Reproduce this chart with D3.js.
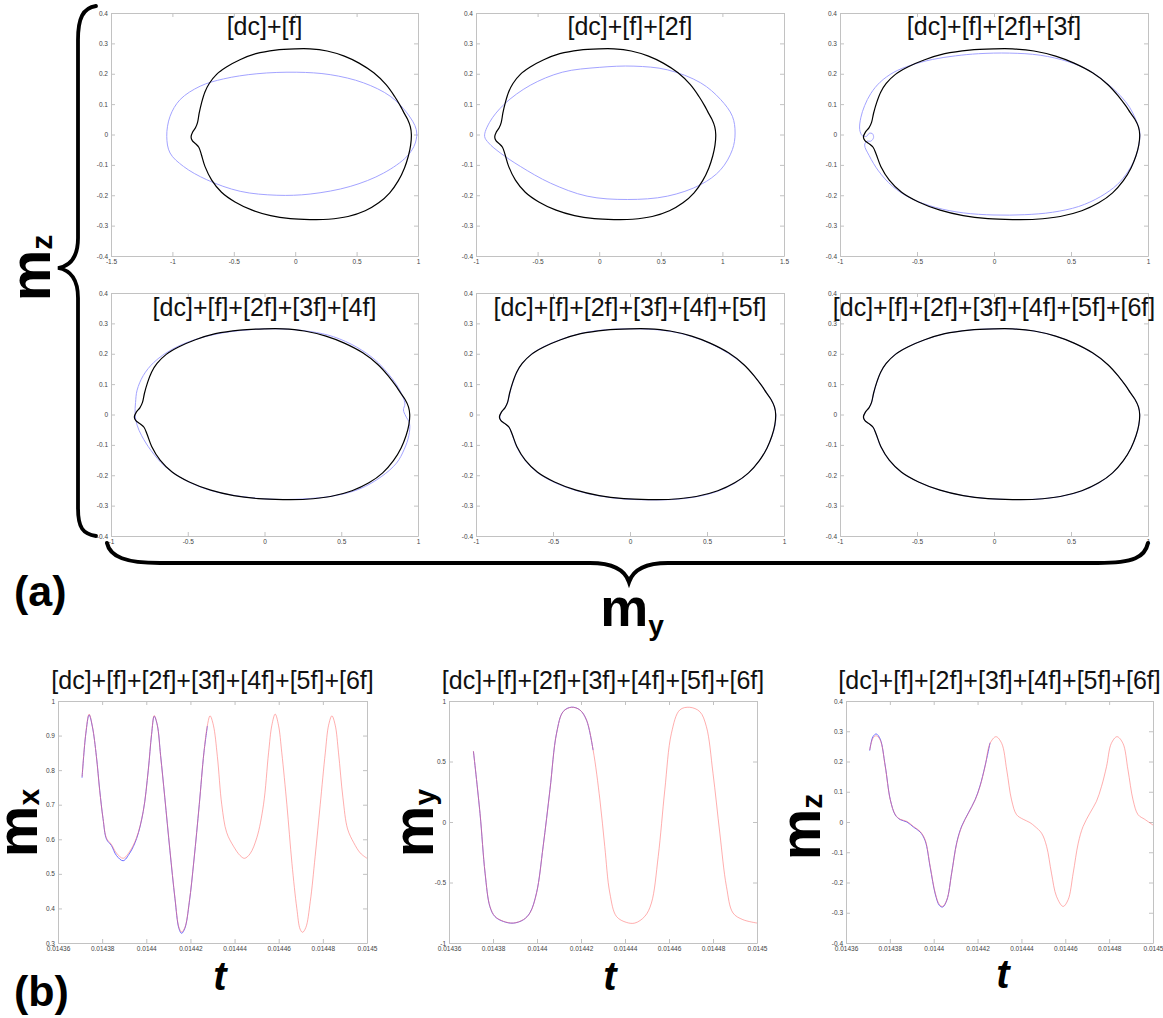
<!DOCTYPE html>
<html><head><meta charset="utf-8">
<script src="https://cdn.jsdelivr.net/npm/d3@7"></script>
<style>body{margin:0;background:#fff} svg{display:block}</style>
</head><body><svg id="c" width="1163" height="1018"></svg>
<script>
// ---------- DATA ----------
const topTitles = ["[dc]+[f]", "[dc]+[f]+[2f]", "[dc]+[f]+[2f]+[3f]",
  "[dc]+[f]+[2f]+[3f]+[4f]", "[dc]+[f]+[2f]+[3f]+[4f]+[5f]", "[dc]+[f]+[2f]+[3f]+[4f]+[5f]+[6f]"];
const bottomTitle = "[dc]+[f]+[2f]+[3f]+[4f]+[5f]+[6f]";
const topXDomains = [[-1.5, 1], [-1, 1.5], [-1, 1], [-1, 1], [-1, 1], [-1, 1]];
const topXTicks = [[-1.5, -1, -0.5, 0, 0.5, 1], [-1, -0.5, 0, 0.5, 1, 1.5], [-1, -0.5, 0, 0.5, 1],
  [-1, -0.5, 0, 0.5, 1], [-1, -0.5, 0, 0.5, 1], [-1, -0.5, 0, 0.5, 1]];
const topYTicks = [-0.4, -0.3, -0.2, -0.1, 0, 0.1, 0.2, 0.3, 0.4];

// simulated trajectory (my, mz) - black
const orbitSim = [[-0.848,-0.008],[-0.835,0.008],[-0.812,0.022],[-0.795,0.04],[-0.782,0.07],[-0.762,0.105],
  [-0.735,0.14],[-0.7,0.168],[-0.64,0.198],[-0.56,0.222],[-0.45,0.246],[-0.32,0.266],[-0.16,0.278],[0.0,0.282],
  [0.12,0.282],[0.26,0.275],[0.4,0.258],[0.52,0.235],[0.64,0.203],[0.74,0.164],[0.81,0.125],[0.855,0.095],
  [0.885,0.072],[0.915,0.05],[0.938,0.025],[0.946,0.0],[0.94,-0.035],[0.922,-0.07],[0.89,-0.11],[0.84,-0.152],
  [0.77,-0.192],[0.68,-0.225],[0.57,-0.251],[0.43,-0.27],[0.27,-0.279],[0.12,-0.28],[-0.04,-0.277],[-0.2,-0.267],
  [-0.35,-0.249],[-0.49,-0.222],[-0.6,-0.19],[-0.68,-0.15],[-0.735,-0.105],[-0.765,-0.065],[-0.785,-0.042],
  [-0.812,-0.03],[-0.838,-0.02]];

// Fourier reconstructions (blue), one per panel
const orbitF1 = [[-1.046,-0.006],[-1.019,0.06],[-0.937,0.115],[-0.774,0.159],[-0.584,0.183],[-0.312,0.2],
  [0.013,0.205],[0.285,0.197],[0.557,0.17],[0.774,0.126],[0.91,0.071],[0.986,0.016],[0.978,-0.028],[0.91,-0.072],
  [0.72,-0.127],[0.448,-0.171],[0.122,-0.196],[-0.149,-0.2],[-0.448,-0.187],[-0.72,-0.149],[-0.91,-0.105],[-1.019,-0.061]];
const orbitF2 = [[-0.93,-0.006],[-0.89,0.04],[-0.77,0.1],[-0.56,0.162],[-0.3,0.205],[0.0,0.221],
  [0.282,0.225],[0.553,0.213],[0.824,0.17],[0.986,0.115],[1.081,0.06],[1.103,0.005],[1.081,-0.05],[0.986,-0.116],
  [0.824,-0.165],[0.553,-0.203],[0.228,-0.214],[-0.098,-0.203],[-0.396,-0.16],[-0.64,-0.105],[-0.802,-0.061],[-0.897,-0.028]];
const orbitF3 = [[-0.872,0.016],[-0.865,0.055],[-0.84,0.095],[-0.8,0.135],[-0.74,0.172],[-0.65,0.205],[-0.54,0.228],
  [-0.4,0.247],[-0.25,0.259],[-0.1,0.266],[0.1,0.268],[0.3,0.261],[0.48,0.24],[0.62,0.21],[0.73,0.17],[0.82,0.128],
  [0.88,0.09],[0.92,0.05],[0.946,0.01],[0.942,-0.03],[0.915,-0.08],[0.87,-0.122],[0.8,-0.165],[0.69,-0.205],
  [0.55,-0.237],[0.38,-0.256],[0.2,-0.264],[0.0,-0.265],[-0.2,-0.258],[-0.38,-0.24],[-0.54,-0.21],[-0.66,-0.17],
  [-0.75,-0.12],[-0.81,-0.07],[-0.84,-0.035],[-0.825,-0.022],[-0.8,-0.022],[-0.782,-0.01],[-0.79,0.003],
  [-0.81,0.004],[-0.828,-0.006],[-0.855,-0.004]];
const orbitF4 = [[-0.843,0.0],[-0.84,0.04],[-0.83,0.08],[-0.79,0.128],[-0.72,0.172],[-0.6,0.215],[-0.45,0.247],
  [-0.28,0.268],[-0.1,0.279],[0.1,0.282],[0.3,0.273],[0.45,0.256],[0.6,0.222],[0.72,0.18],[0.8,0.138],[0.86,0.098],
  [0.9,0.06],[0.915,0.035],[0.905,0.015],[0.92,-0.005],[0.945,-0.03],[0.94,-0.07],[0.91,-0.115],[0.86,-0.16],
  [0.76,-0.205],[0.62,-0.245],[0.45,-0.268],[0.25,-0.278],[0.05,-0.279],[-0.15,-0.27],[-0.35,-0.25],[-0.52,-0.215],
  [-0.65,-0.17],[-0.74,-0.118],[-0.8,-0.07],[-0.83,-0.035]];
const orbitF5 = [[-0.845,-0.006],[-0.832,0.01],[-0.81,0.024],[-0.793,0.042],[-0.78,0.072],[-0.759,0.107],
  [-0.732,0.142],[-0.697,0.17],[-0.637,0.2],[-0.557,0.224],[-0.448,0.247],[-0.318,0.267],[-0.16,0.279],[0.0,0.282],
  [0.12,0.281],[0.26,0.274],[0.4,0.257],[0.52,0.234],[0.64,0.201],[0.742,0.162],[0.813,0.123],[0.858,0.093],
  [0.889,0.07],[0.918,0.048],[0.94,0.022],[0.947,-0.003],[0.941,-0.038],[0.921,-0.073],[0.888,-0.112],
  [0.837,-0.154],[0.767,-0.194],[0.677,-0.227],[0.567,-0.253],[0.428,-0.271],[0.27,-0.28],[0.12,-0.281],
  [-0.04,-0.278],[-0.2,-0.268],[-0.352,-0.25],[-0.493,-0.223],[-0.604,-0.19],[-0.684,-0.149],[-0.739,-0.103],
  [-0.768,-0.062],[-0.789,-0.04],[-0.816,-0.029],[-0.84,-0.018]];
const orbitF6 = [[-0.847,-0.007],[-0.834,0.009],[-0.811,0.023],[-0.794,0.041],[-0.781,0.071],[-0.761,0.106],
  [-0.734,0.141],[-0.699,0.169],[-0.639,0.199],[-0.559,0.223],[-0.449,0.246],[-0.319,0.266],[-0.16,0.278],[0.0,0.282],
  [0.12,0.282],[0.26,0.275],[0.4,0.258],[0.52,0.235],[0.64,0.202],[0.741,0.163],[0.811,0.124],[0.856,0.094],
  [0.887,0.071],[0.916,0.049],[0.939,0.024],[0.946,-0.001],[0.94,-0.036],[0.922,-0.071],[0.889,-0.111],
  [0.839,-0.153],[0.769,-0.193],[0.679,-0.226],[0.569,-0.252],[0.429,-0.27],[0.27,-0.279],[0.12,-0.28],
  [-0.04,-0.277],[-0.2,-0.267],[-0.351,-0.249],[-0.491,-0.222],[-0.602,-0.19],[-0.682,-0.15],[-0.737,-0.104],
  [-0.766,-0.064],[-0.787,-0.041],[-0.814,-0.03],[-0.839,-0.019]];
const orbitFourier = [orbitF1, orbitF2, orbitF3, orbitF4, orbitF5, orbitF6];

// time series (b)
const tTicks = [0.01436, 0.01438, 0.0144, 0.01442, 0.01444, 0.01446, 0.01448, 0.0145];
const tMx = [0.0143709,0.0143726,0.0143741,0.0143756,0.0143774,0.0143789,0.0143804,0.014382,0.0143842,0.0143865,
  0.0143895,0.0143925,0.0143956,0.0143986,0.0144009,0.0144024,0.0144036,0.014405,0.0144065,0.0144084,
  0.0144107,0.014413,0.0144148,0.014416,0.0144175,0.0144195,0.0144216,0.014424,0.0144261,0.0144277,
  0.0144289,0.0144304,0.0144322,0.0144342,0.0144364,0.0144395,0.0144425,0.0144445,0.014447,0.0144501,
  0.0144531,0.0144554,0.0144569,0.0144584,0.0144599,0.0144614,0.0144637,0.014466,0.0144682,0.0144697,
  0.0144708,0.0144723,0.0144743,0.0144765,0.0144788,0.0144811,0.0144826,0.0144841,0.0144856,0.0144871,
  0.0144891,0.0144912,0.014494,0.014497,0.0145];
const mxFourier = [0.781,0.907,0.962,0.926,0.839,0.74,0.66,0.603,0.585,0.56,
  0.545,0.565,0.605,0.68,0.8,0.905,0.958,0.93,0.84,0.72,
  0.57,0.43,0.345,0.332,0.345,0.42,0.54,0.7,0.85,0.93,
  0.957,0.93,0.84,0.7,0.62,0.58,0.553,0.545,0.558,0.605,
  0.7,0.85,0.93,0.962,0.93,0.85,0.7,0.53,0.4,0.34,
  0.331,0.345,0.42,0.55,0.7,0.85,0.93,0.957,0.93,0.85,
  0.72,0.63,0.59,0.56,0.545];
const mxSim = [0.778,0.905,0.96,0.925,0.84,0.742,0.66,0.6,0.582,0.553,0.538,0.56,0.602,0.68,0.8,0.903,0.956,0.93,
  0.842,0.72,0.568,0.428,0.342,0.328,0.343,0.418,0.54,0.7,0.85,0.928];

const tMy = [0.0143711,0.0143741,0.0143764,0.0143786,0.0143809,0.0143847,0.0143892,0.0143938,0.0143968,0.0143998,
  0.0144028,0.0144059,0.0144089,0.0144119,0.0144157,0.0144195,0.0144225,0.0144255,0.0144286,0.0144308,
  0.0144331,0.0144361,0.0144407,0.0144445,0.014449,0.014452,0.0144551,0.0144581,0.0144611,0.0144649,
  0.0144694,0.014474,0.014477,0.01448,0.0144831,0.0144861,0.0144891,0.0144936,0.0145];
const myFourier = [0.587,0.073,-0.42,-0.697,-0.78,-0.82,-0.835,-0.807,-0.752,-0.587,
  -0.202,0.266,0.733,0.912,0.948,0.926,0.843,0.596,0.183,-0.202,
  -0.587,-0.78,-0.83,-0.835,-0.78,-0.67,-0.285,0.266,0.733,0.926,
  0.948,0.912,0.788,0.403,-0.092,-0.532,-0.752,-0.807,-0.835];
const mySim = [0.585,0.07,-0.423,-0.7,-0.782,-0.822,-0.836,-0.808,-0.75,-0.585,-0.2,0.268,0.735,0.913,0.949,0.926,0.842,0.594];

const tMz = [0.0143708,0.0143723,0.0143738,0.0143756,0.0143779,0.0143802,0.0143825,0.0143847,0.0143878,0.0143908,
  0.0143938,0.0143961,0.0143984,0.0144007,0.0144026,0.0144041,0.014406,0.0144082,0.0144105,0.0144128,
  0.0144158,0.0144189,0.0144211,0.0144234,0.0144257,0.0144284,0.014431,0.0144333,0.0144355,0.0144378,
  0.0144408,0.0144439,0.0144462,0.0144492,0.0144515,0.0144537,0.014456,0.014459,0.0144613,0.0144636,
  0.0144659,0.0144681,0.0144712,0.0144742,0.0144765,0.0144788,0.014481,0.0144836,0.0144863,0.0144886,
  0.0144909,0.0144932,0.0144962,0.0145];
const mzFourier = [0.238,0.277,0.285,0.271,0.183,0.073,0.024,0.009,0.002,-0.015,
  -0.031,-0.059,-0.147,-0.235,-0.273,-0.279,-0.257,-0.169,-0.07,-0.015,
  0.029,0.073,0.117,0.183,0.26,0.282,0.26,0.172,0.073,0.024,
  0.009,-0.002,-0.015,-0.037,-0.081,-0.169,-0.246,-0.279,-0.257,-0.169,
  -0.07,-0.015,0.029,0.068,0.117,0.183,0.26,0.282,0.26,0.172,
  0.073,0.024,0.009,-0.01];
const mzSim = [0.236,0.282,0.291,0.274,0.185,0.074,0.023,0.008,0.0,-0.017,-0.033,-0.062,-0.15,-0.238,-0.276,-0.281,
  -0.258,-0.168,-0.068,-0.013,0.03,0.074,0.119,0.185,0.262];

const mxYTicks = [0.3,0.4,0.5,0.6,0.7,0.8,0.9,1];
const myYTicks = [-1,-0.5,0,0.5,1];
const mzYTicks = [-0.4,-0.3,-0.2,-0.1,0,0.1,0.2,0.3,0.4];

// ---------- DRAW ----------
const FONT = "'Liberation Sans', Arial, Helvetica, sans-serif";
const svg = d3.select("#c");
svg.append("rect").attr("width", 1163).attr("height", 1018).attr("fill", "#fff");

const fmt = v => String(+v.toFixed(5));
function styleAxis(sel) {
  sel.select("path.domain").attr("stroke", "#c2c2c2").attr("stroke-width", 1);
  sel.selectAll(".tick line").attr("stroke", "#c2c2c2");
  sel.selectAll(".tick text").attr("fill", "#444").attr("font-size", 6.5).attr("font-family", FONT);
}
function panel(c) {
  const g = svg.append("g");
  const x = d3.scaleLinear().domain(c.xd).range([c.l, c.r]);
  const y = d3.scaleLinear().domain(c.yd).range([c.b, c.t]);
  g.append("g").attr("transform", `translate(0,${c.b})`)
    .call(d3.axisBottom(x).tickValues(c.xt).tickFormat(fmt).tickSizeInner(-4).tickSizeOuter(0).tickPadding(3)).call(styleAxis);
  g.append("g").attr("transform", `translate(0,${c.t})`)
    .call(d3.axisTop(x).tickValues(c.xt).tickFormat("").tickSizeInner(-4).tickSizeOuter(0)).call(styleAxis);
  g.append("g").attr("transform", `translate(${c.l},0)`)
    .call(d3.axisLeft(y).tickValues(c.yt).tickFormat(fmt).tickSizeInner(-4).tickSizeOuter(0).tickPadding(3)).call(styleAxis);
  g.append("g").attr("transform", `translate(${c.r},0)`)
    .call(d3.axisRight(y).tickValues(c.yt).tickFormat("").tickSizeInner(-4).tickSizeOuter(0)).call(styleAxis);
  g.append("text").attr("x", (c.l + c.r) / 2).attr("y", c.ty).attr("text-anchor", "middle")
    .attr("font-family", FONT).attr("font-size", 25).attr("fill", "#111").text(c.title);
  return { g, x, y };
}

// top panels
const colL = [111, 476, 840], colR = [418, 784, 1148];
const rowT = [13, 293], rowB = [256, 536], rowTitleY = [35, 316];
for (let i = 0; i < 6; i++) {
  const col = i % 3, row = Math.floor(i / 3);
  const p = panel({ l: colL[col], r: colR[col], t: rowT[row], b: rowB[row], xd: topXDomains[i], yd: [-0.4, 0.4],
    xt: topXTicks[i], yt: topYTicks, title: topTitles[i], ty: rowTitleY[row] });
  const line = d3.line().x(d => p.x(d[0])).y(d => p.y(d[1])).curve(d3.curveCatmullRomClosed.alpha(0.5));
  p.g.append("path").attr("d", line(orbitFourier[i])).attr("fill", "none").attr("stroke", "#a3a3ff").attr("stroke-width", 1);
  p.g.append("path").attr("d", line(orbitSim)).attr("fill", "none").attr("stroke", "#000").attr("stroke-width", 1.2);
}

// bottom panels
const bottom = [
  { l: 58, r: 367, yd: [0.3, 1], yt: mxYTicks, t: tMx, f: mxFourier, s: mxSim },
  { l: 449, r: 757, yd: [-1, 1], yt: myYTicks, t: tMy, f: myFourier, s: mySim },
  { l: 846, r: 1153, yd: [-0.4, 0.4], yt: mzYTicks, t: tMz, f: mzFourier, s: mzSim }
];
bottom.forEach(b => {
  const p = panel({ l: b.l, r: b.r, t: 701, b: 943, xd: [0.01436, 0.0145], yd: b.yd, xt: tTicks, yt: b.yt,
    title: bottomTitle, ty: 689 });
  const line = d3.line().x(d => p.x(d[0])).y(d => p.y(d[1])).curve(d3.curveCatmullRom.alpha(0.5));
  const sim = b.s.map((v, i) => [b.t[i], v]);
  const four = b.f.map((v, i) => [b.t[i], v]);
  p.g.append("path").attr("d", line(sim)).attr("fill", "none").attr("stroke", "#6b6bff").attr("stroke-width", 1);
  p.g.append("path").attr("d", line(four)).attr("fill", "none").attr("stroke", "#ff6b6b").attr("stroke-opacity", 0.55).attr("stroke-width", 1);
});

// braces
svg.append("path")
  .attr("d", "M96,6 C83,8 78,18 78,40 L78,238 C78,258 70,266 58,268 C70,270 78,278 78,298 L78,508 C78,528 83,534 96,536")
  .attr("fill", "none").attr("stroke", "#000").attr("stroke-width", 3.8).attr("stroke-linecap", "round");
svg.append("path")
  .attr("d", "M107,543 C110,557 126,563 160,563 L590,563 C613,563 625,570 629,582 C633,570 645,563 668,563 L1098,563 C1134,563 1145,557 1148,543")
  .attr("fill", "none").attr("stroke", "#000").attr("stroke-width", 4).attr("stroke-linecap", "round");

// big labels
function bigLabel(x, y, main, sub, rot, size) {
  const t = svg.append("text").attr("transform", `translate(${x},${y})` + (rot ? " rotate(-90)" : ""))
    .attr("text-anchor", "middle").attr("font-family", FONT).attr("font-weight", "bold").attr("font-size", size).attr("fill", "#000");
  t.append("tspan").text(main);
  t.append("tspan").attr("font-size", size * 0.52).attr("dy", rot ? 2 : size * 0.17).text(sub);
}
bigLabel(50, 268, "m", "z", true, 58);
bigLabel(632, 626, "m", "y", false, 54);
bigLabel(37, 823, "m", "x", true, 58);
bigLabel(433, 823, "m", "y", true, 58);
bigLabel(820, 827, "m", "z", true, 58);

svg.append("text").attr("x", 14).attr("y", 606).attr("font-family", FONT).attr("font-weight", "bold")
  .attr("font-size", 43).text("(a)");
svg.append("text").attr("x", 14).attr("y", 1006).attr("font-family", FONT).attr("font-weight", "bold")
  .attr("font-size", 43).text("(b)");
[[220, 990], [610, 990], [1003, 988]].forEach(([x, y]) => {
  svg.append("text").attr("x", x).attr("y", y).attr("text-anchor", "middle").attr("font-family", FONT)
    .attr("font-weight", "bold").attr("font-style", "italic").attr("font-size", 40).text("t");
});
</script></body></html>
